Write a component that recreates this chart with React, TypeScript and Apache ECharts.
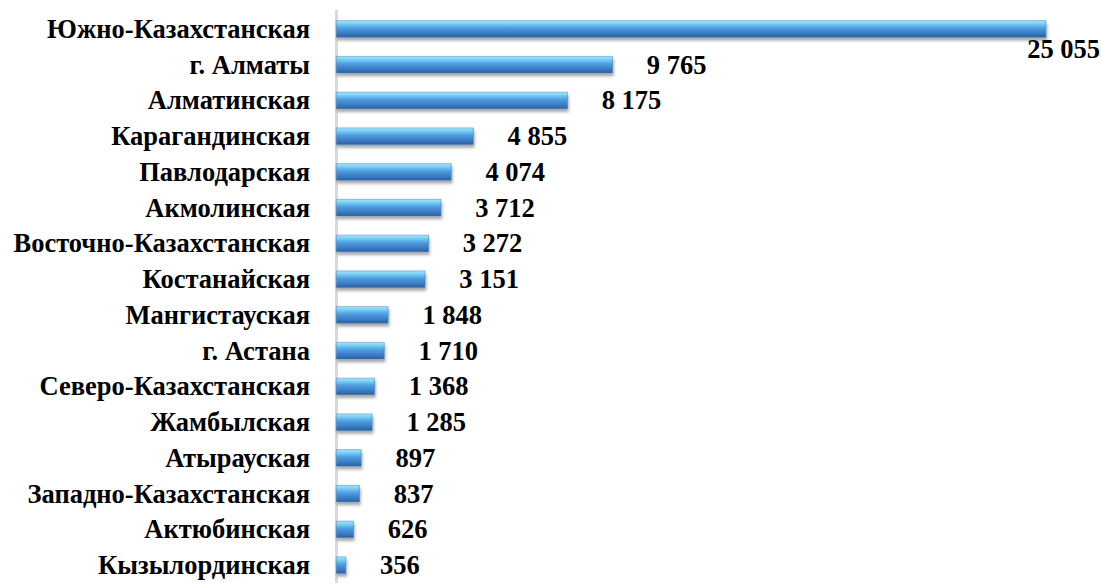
import React, { useEffect, useRef } from "react";
import * as echarts from "echarts";

const regions = [
  "Южно-Казахстанская",
  "г. Алматы",
  "Алматинская",
  "Карагандинская",
  "Павлодарская",
  "Акмолинская",
  "Восточно-Казахстанская",
  "Костанайская",
  "Мангистауская",
  "г. Астана",
  "Северо-Казахстанская",
  "Жамбылская",
  "Атырауская",
  "Западно-Казахстанская",
  "Актюбинская",
  "Кызылординская",
];
const values = [25055, 9765, 8175, 4855, 4074, 3712, 3272, 3151, 1848, 1710, 1368, 1285, 897, 837, 626, 356];

const fmt = (v: number) => String(v).replace(/\B(?=(\d{3})+(?!\d))/g, " ");

export default function App() {
  const ref = useRef<HTMLDivElement>(null);
  useEffect(() => {
    const chart = echarts.init(ref.current!, null, { renderer: "svg" });
    const font = "Liberation Serif";
    chart.setOption({
      animation: false,
      grid: { left: 336, top: 11, width: 737, height: 572, containLabel: false },
      xAxis: { type: "value", min: 0, max: 26000, show: false },
      yAxis: {
        type: "category",
        data: regions,
        inverse: true,
        axisLine: { show: true, lineStyle: { color: "#d9d9d9", width: 3 } },
        axisTick: { show: false },
        axisLabel: { margin: 26, color: "#000", fontFamily: font, fontWeight: "bold", fontSize: 26.5 },
      },
      series: [
        {
          type: "bar",
          data: values.map((v, i) =>
            i === 0
              ? {
                  value: v,
                  label: { position: ["100%", "100%"], offset: [-19, 12], align: "left", verticalAlign: "middle" },
                }
              : v
          ),
          barWidth: 17,
          itemStyle: {
            color: new echarts.graphic.LinearGradient(0, 0, 0, 1, [
              { offset: 0, color: "#a9e6fc" },
              { offset: 0.2, color: "#78cdf5" },
              { offset: 0.45, color: "#4e9de0" },
              { offset: 0.8, color: "#3a78c0" },
              { offset: 1, color: "#2a5f9c" },
            ]),
            borderColor: "#3c7cc0",
            borderWidth: 0.5,
            shadowColor: "rgba(0,0,0,0.35)",
            shadowBlur: 3,
            shadowOffsetY: 3,
            shadowOffsetX: 1,
          },
          label: {
            show: true,
            position: "right",
            distance: 34,
            formatter: (p: any) => fmt(p.value),
            color: "#000",
            fontFamily: font,
            fontWeight: "bold",
            fontSize: 26.5,
          },
        },
      ],
    });
    return () => chart.dispose();
  }, []);
  return (
    <div style={{ position: "absolute", left: 0, top: 0, width: 1102, height: 583, overflow: "hidden", background: "#fff" }}>
      <div ref={ref} style={{ width: 1102, height: 600 }} />
    </div>
  );
}
